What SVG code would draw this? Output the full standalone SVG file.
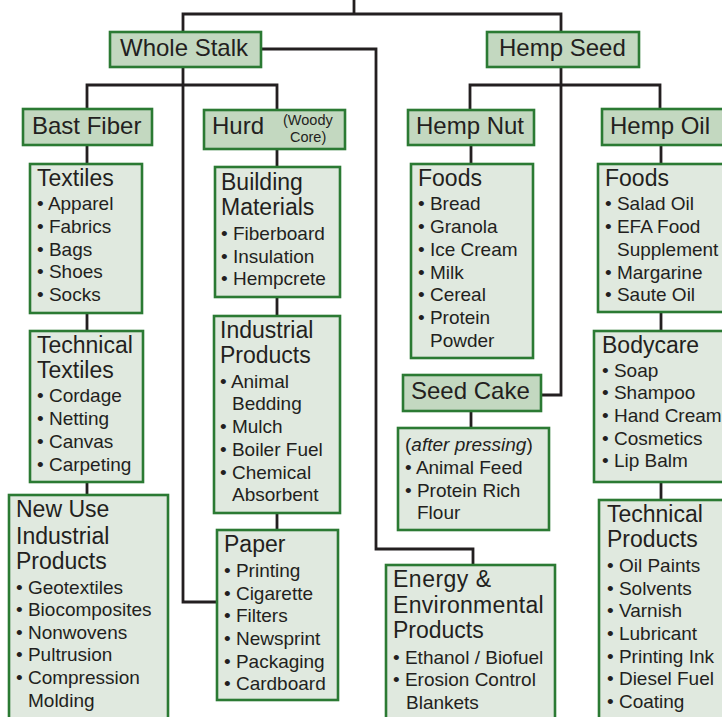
<svg xmlns="http://www.w3.org/2000/svg" width="722" height="717" viewBox="0 0 722 717">
<style>
.hd{fill:#c3d8c0;stroke:#2b7a33;stroke-width:2.6}
.ct{fill:#e0e9df;stroke:#2b7a33;stroke-width:2.6}
.cn{fill:none;stroke:#231f20;stroke-width:2.8}
text{font-family:"Liberation Sans",Arial,sans-serif;fill:#231f20}
.h{font-size:24px}
.t{font-size:23px}
.i{font-size:19px}
.s{font-size:14.5px}
</style>
<rect width="722" height="717" fill="#ffffff"/>
<g id="connectors" class="cn">
<path d="M354,0 V14"/>
<path d="M183,31 V14 H561 V31"/>
<path d="M262,49 H376 V549 H473 V564"/>
<path d="M183,68 V602 H216"/>
<path d="M87,108 V85 H277 V109"/>
<path d="M87,146 V163 M87,314 V330 M87,483 V494"/>
<path d="M277,150 V166 M277,298 V315 M277,514 V529"/>
<path d="M561,68 V395 H542"/>
<path d="M470,109 V85 H660 V108"/>
<path d="M471,146 V163 M471,412 V427"/>
<path d="M661,146 V163 M661,313 V330 M661,483 V499"/>
</g>
<g id="whole-stalk"><rect class="hd" x="110" y="32" width="151" height="35"/><text class="h" x="120" y="56">Whole Stalk</text></g>
<g id="hemp-seed"><rect class="hd" x="487" y="32" width="152" height="35"/><text class="h" x="499" y="56">Hemp Seed</text></g>
<g id="bast-fiber"><rect class="hd" x="23" y="109" width="129" height="36"/><text class="h" x="32" y="134">Bast Fiber</text></g>
<g id="hurd"><rect class="hd" x="204" y="110" width="141" height="39"/><text class="h" x="212" y="134">Hurd</text><text class="s" x="283" y="125">(Woody</text><text class="s" x="290" y="141.5">Core)</text></g>
<g id="hemp-nut"><rect class="hd" x="408" y="110" width="126" height="35"/><text class="h" x="416" y="134">Hemp Nut</text></g>
<g id="hemp-oil"><rect class="hd" x="602" y="109" width="130" height="36"/><text class="h" x="610" y="134">Hemp Oil</text></g>

<g id="textiles"><rect class="ct" x="30" y="164" width="112" height="149"/>
<text class="t" x="37" y="186">Textiles</text>
<text class="i" x="37" y="210">• Apparel</text>
<text class="i" x="37" y="233">• Fabrics</text>
<text class="i" x="37" y="255.5">• Bags</text>
<text class="i" x="37" y="278">• Shoes</text>
<text class="i" x="37" y="301">• Socks</text></g>

<g id="technical-textiles"><rect class="ct" x="30" y="331" width="113" height="151"/>
<text class="t" x="37" y="352.5">Technical</text>
<text class="t" x="37" y="378">Textiles</text>
<text class="i" x="37" y="402">• Cordage</text>
<text class="i" x="37" y="425">• Netting</text>
<text class="i" x="37" y="448">• Canvas</text>
<text class="i" x="37" y="470.5">• Carpeting</text></g>

<g id="new-use"><rect class="ct" x="9" y="495" width="159" height="240"/>
<text class="t" x="16" y="517">New Use</text>
<text class="t" x="16" y="543.5">Industrial</text>
<text class="t" x="16" y="568.5">Products</text>
<text class="i" x="16" y="593.5">• Geotextiles</text>
<text class="i" x="16" y="616">• Biocomposites</text>
<text class="i" x="16" y="638.5">• Nonwovens</text>
<text class="i" x="16" y="661">• Pultrusion</text>
<text class="i" x="16" y="684">• Compression</text>
<text class="i" x="28" y="707">Molding</text></g>

<g id="building-materials"><rect class="ct" x="215" y="167" width="125" height="130"/>
<text class="t" x="221" y="190">Building</text>
<text class="t" x="221" y="215">Materials</text>
<text class="i" x="221" y="239.5">• Fiberboard</text>
<text class="i" x="221" y="262.5">• Insulation</text>
<text class="i" x="221" y="285">• Hempcrete</text></g>

<g id="industrial-products"><rect class="ct" x="214" y="316" width="126" height="197"/>
<text class="t" x="220" y="337.5">Industrial</text>
<text class="t" x="220" y="363">Products</text>
<text class="i" x="220" y="387.5">• Animal</text>
<text class="i" x="232" y="410">Bedding</text>
<text class="i" x="220" y="433">• Mulch</text>
<text class="i" x="220" y="456">• Boiler Fuel</text>
<text class="i" x="220" y="478.5">• Chemical</text>
<text class="i" x="232" y="500.5">Absorbent</text></g>

<g id="paper"><rect class="ct" x="217" y="530" width="121" height="170"/>
<text class="t" x="224" y="552">Paper</text>
<text class="i" x="224" y="577">• Printing</text>
<text class="i" x="224" y="599.5">• Cigarette</text>
<text class="i" x="224" y="622">• Filters</text>
<text class="i" x="224" y="644.5">• Newsprint</text>
<text class="i" x="224" y="667.5">• Packaging</text>
<text class="i" x="224" y="690">• Cardboard</text></g>

<g id="nut-foods"><rect class="ct" x="411" y="164" width="122" height="194"/>
<text class="t" x="418" y="186">Foods</text>
<text class="i" x="418" y="210">• Bread</text>
<text class="i" x="418" y="233">• Granola</text>
<text class="i" x="418" y="255.5">• Ice Cream</text>
<text class="i" x="418" y="278.5">• Milk</text>
<text class="i" x="418" y="301">• Cereal</text>
<text class="i" x="418" y="324">• Protein</text>
<text class="i" x="430" y="347">Powder</text></g>

<g id="seed-cake"><rect class="hd" x="403" y="375" width="138" height="36"/><text class="h" x="411" y="399">Seed Cake</text></g>

<g id="after-pressing"><rect class="ct" x="398" y="428" width="151" height="102"/>
<text class="i" x="405" y="451">(<tspan font-style="italic">after pressing</tspan>)</text>
<text class="i" x="405" y="473.5">• Animal Feed</text>
<text class="i" x="405" y="497">• Protein Rich</text>
<text class="i" x="417" y="519">Flour</text></g>

<g id="energy"><rect class="ct" x="386" y="565" width="169" height="170"/>
<text class="t" x="393" y="587" letter-spacing="0.5">Energy &amp;</text>
<text class="t" x="393" y="612.5" letter-spacing="0.3">Environmental</text>
<text class="t" x="393" y="637.5">Products</text>
<text class="i" x="393" y="663.5">• Ethanol / Biofuel</text>
<text class="i" x="393" y="686">• Erosion Control</text>
<text class="i" x="406" y="708.5">Blankets</text></g>

<g id="oil-foods"><rect class="ct" x="598" y="164" width="140" height="148"/>
<text class="t" x="605" y="186">Foods</text>
<text class="i" x="605" y="210">• Salad Oil</text>
<text class="i" x="605" y="233">• EFA Food</text>
<text class="i" x="617" y="255.5">Supplement</text>
<text class="i" x="605" y="278.5">• Margarine</text>
<text class="i" x="605" y="301">• Saute Oil</text></g>

<g id="bodycare"><rect class="ct" x="594" y="331" width="140" height="151"/>
<text class="t" x="602" y="352.5">Bodycare</text>
<text class="i" x="602" y="377">• Soap</text>
<text class="i" x="602" y="399">• Shampoo</text>
<text class="i" x="602" y="422">• Hand Cream</text>
<text class="i" x="602" y="444.5">• Cosmetics</text>
<text class="i" x="602" y="467">• Lip Balm</text></g>

<g id="technical-products"><rect class="ct" x="599" y="500" width="140" height="240"/>
<text class="t" x="607" y="522">Technical</text>
<text class="t" x="607" y="547">Products</text>
<text class="i" x="607" y="572">• Oil Paints</text>
<text class="i" x="607" y="594.5">• Solvents</text>
<text class="i" x="607" y="617">• Varnish</text>
<text class="i" x="607" y="639.5">• Lubricant</text>
<text class="i" x="607" y="663">• Printing Ink</text>
<text class="i" x="607" y="685">• Diesel Fuel</text>
<text class="i" x="607" y="708">• Coating</text></g>
</svg>
